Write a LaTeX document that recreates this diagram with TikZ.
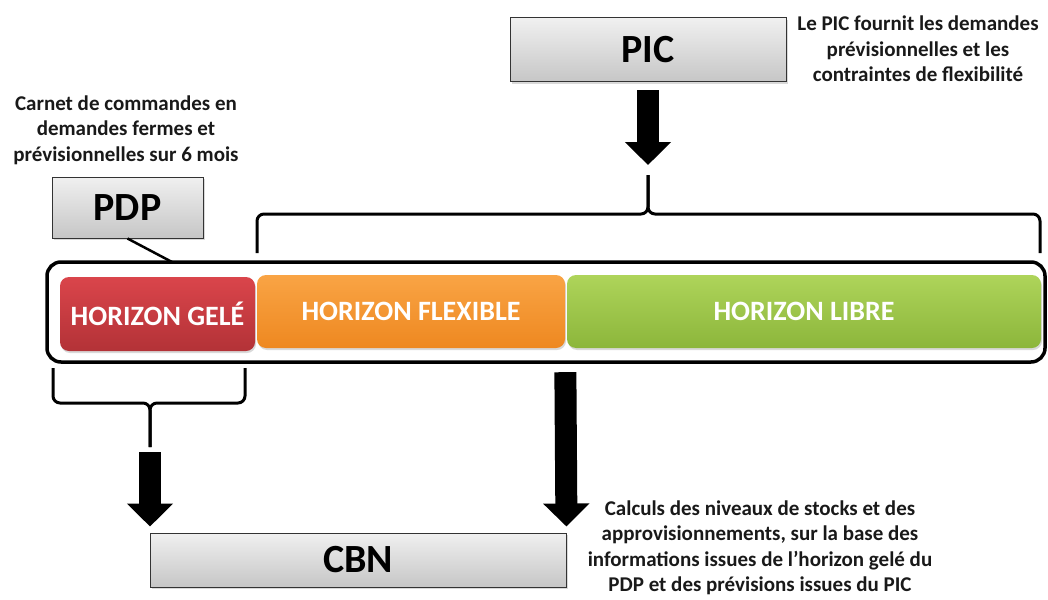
\documentclass[tikz,border=0pt]{standalone}
\usepackage{fontspec}
\setmainfont{Carlito}
\usetikzlibrary{arrows.meta,shadows,calc}
\definecolor{boxtop}{HTML}{F0F0F0}
\definecolor{boxbot}{HTML}{C6C6C6}
\definecolor{redtop}{HTML}{DA454B}
\definecolor{redbot}{HTML}{B33237}
\definecolor{orgtop}{HTML}{F9A445}
\definecolor{orgbot}{HTML}{EE8820}
\definecolor{grntop}{HTML}{AED45A}
\definecolor{grnbot}{HTML}{8CB63B}
\tikzset{
  graybox/.style={draw=black!80, line width=1pt, top color=boxtop, bottom color=boxbot,
    inner sep=0pt, font=\fontsize{40}{44}\selectfont\bfseries,
    drop shadow={opacity=0.3, shadow xshift=2pt, shadow yshift=-2pt}},
  horbox/.style={rounded corners=9pt, inner sep=0pt, text=white,
    font=\fontsize{28}{32}\selectfont\bfseries,
    drop shadow={opacity=0.3, shadow xshift=1pt, shadow yshift=-2pt}},
  note/.style={align=center, inner sep=0pt, font=\fontsize{21}{25.5}\selectfont\bfseries, text=black!90},
  bracestyle/.style={line width=3pt, rounded corners=7pt, line join=round},
  fatarrow/.style={line width=22pt, black, -{Triangle[length=23pt,width=45pt]}},
}
\begin{document}
\begin{tikzpicture}[x=1pt,y=-1pt]
\useasboundingbox (0,0) rectangle (1048,599);
% outer frame
\node[draw=black, line width=3.5pt, rounded corners=14pt, minimum width=998pt, minimum height=100pt, inner sep=0pt] (frame) at (546,312) {};
% horizon boxes
\node[horbox, top color=redtop, bottom color=redbot, minimum width=195pt, minimum height=74pt] (gel) at (157.5,314) {HORIZON GELÉ};
\node[horbox, top color=orgtop, bottom color=orgbot, minimum width=308pt, minimum height=73pt] (flex) at (411,311.5) {HORIZON FLEXIBLE};
\node[horbox, top color=grntop, bottom color=grnbot, minimum width=474pt, minimum height=73pt] (libre) at (804,311.5) {HORIZON LIBRE};
% gray boxes
\node[graybox, minimum width=276pt, minimum height=64pt] (pic) at (648,50) {PIC};
\node[graybox, minimum width=151pt, minimum height=61pt] (pdp) at (127.5,207.5) {PDP};
\node[graybox, minimum width=416pt, minimum height=54pt] (cbn) at (358,560) {CBN};
% notes
\node[note] (picnote) at (918,49) {Le PIC fournit les demandes\\prévisionnelles et les\\contraintes de flexibilité};
\node[note] (pdpnote) at (126,130) {Carnet de commandes en\\demandes fermes et\\prévisionnelles sur 6 mois};
\node[note] (cbnnote) at (760,548) {Calculs des niveaux de stocks et des\\approvisionnements, sur la base des\\informations issues de l’horizon gelé du\\PDP et des prévisions issues du PIC};
% braces
\coordinate (tcusp) at (648,175);
\coordinate (bcusp) at (150,447);
\coordinate (pdpjoin) at (172,262);
\draw[bracestyle] (257,253) -- (257,214) -- (648,214) -- (tcusp);
\draw[bracestyle] (tcusp) -- (648,214) -- (1040,214) -- (1040,253);
\draw[bracestyle] (53,368) -- (53,403) -- (150,403) -- (bcusp);
\draw[bracestyle] (bcusp) -- (150,403) -- (245,403) -- (245,368);
% PDP connector
\draw[line width=2.5pt] (pdp.south) -- (pdpjoin);
% fat arrows
\draw[fatarrow, shorten <=8pt, shorten >=10pt] (pic.south) -- (tcusp);
\draw[fatarrow, shorten <=5pt, shorten >=6pt] (bcusp) -- (bcusp |- cbn.north);
\draw[fatarrow, shorten <=24pt, shorten >=6pt] (flex.south east) -- (cbn.north east);
\end{tikzpicture}
\end{document}
